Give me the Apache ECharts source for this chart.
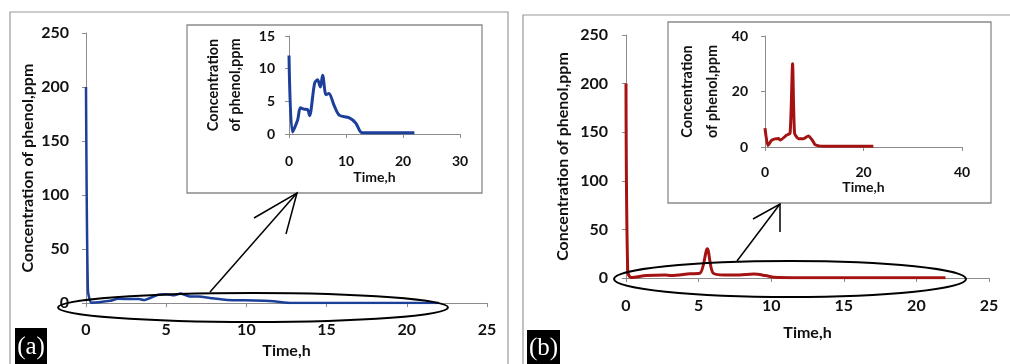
<!DOCTYPE html>
<html><head><meta charset="utf-8">
<script src="https://cdn.jsdelivr.net/npm/echarts@6/dist/echarts.min.js"></script>
<style>html,body{margin:0;padding:0;background:#fff}#c{width:1010px;height:364px}</style>
</head><body><div id="c"></div><script>
// ---- data (a) ----
const timeMainA = [0, 0.12, 0.35, 1.5, 2, 2.6, 3.3, 3.6, 4.5, 5, 5.5, 5.9, 6.5, 7, 7.9, 8.8, 10.5, 11.7, 12.8, 15, 18, 22];
const concMainA = [200, 12, 0.3, 2.1, 4, 3.8, 3.7, 2.8, 7.8, 8.3, 7.2, 9, 6, 6.2, 4.4, 2.9, 2.5, 1.7, 0.2, 0.2, 0.2, 0.2];
const timeInsetA = [0, 0.6, 1.5, 2, 2.6, 3.3, 3.6, 4.5, 5, 5.5, 5.9, 6.5, 7, 7.9, 8.8, 10.5, 11.7, 12.8, 15, 18, 22];
const concInsetA = [12, 0.3, 2.1, 4, 3.8, 3.7, 2.8, 7.8, 8.3, 7.2, 9, 6, 6.2, 4.4, 2.9, 2.5, 1.7, 0.2, 0.2, 0.2, 0.2];
// ---- data (b) ----
const timeMainB = [0, 0.12, 0.35, 1.4, 2.7, 3.1, 4.4, 5.1, 5.6, 6.0, 6.8, 7.8, 8.8, 9.6, 10.2, 12, 15, 18, 22];
const concMainB = [200, 6.8, 0.5, 2.5, 3.1, 2.5, 4.3, 5, 30, 5, 3, 3, 4, 2.5, 0.8, 0.3, 0.3, 0.3, 0.3];
const timeInsetB = [0, 0.6, 1.4, 2.7, 3.1, 4.4, 5.1, 5.6, 6.0, 6.8, 7.8, 8.8, 9.6, 10.2, 12, 15, 18, 22];
const concInsetB = [6.8, 0.5, 2.5, 3.1, 2.5, 4.3, 5, 30, 5, 3, 3, 4, 2.5, 0.8, 0.3, 0.3, 0.3, 0.3];
// ---- texts ----
const yTitleMain = 'Concentration of phenol,ppm';
const yTitleInset = 'Concentration\nof phenol,ppm';
const xTitle = 'Time,h';
const panelTags = ['(a)', '(b)'];

const FONT = 'Lato';
const AX = '#8c8c8c';
function zip(t, v) { return t.map((x, i) => [x, v[i]]); }

function xAx(g, max, interval, fs, margin, nameGap) {
  return {
    type: 'value', gridIndex: g, min: 0, max: max, interval: interval,
    name: xTitle, nameLocation: 'middle', nameGap: nameGap,
    nameTextStyle: { fontFamily: FONT, fontWeight: 'bold', fontSize: fs, color: '#111' },
    axisLine: { show: true, onZero: false, lineStyle: { color: AX, width: 1 } },
    axisTick: { show: true, length: 4, lineStyle: { color: AX } },
    axisLabel: { fontFamily: FONT, fontWeight: 'bold', fontSize: fs, color: '#111', margin: margin },
    splitLine: { show: false }
  };
}
function yAx(g, max, interval, fs, margin, name, nameFs, nameLh, nameGap) {
  return {
    type: 'value', gridIndex: g, min: 0, max: max, interval: interval,
    name: name, nameLocation: 'middle', nameRotate: 90, nameGap: nameGap,
    nameTextStyle: { fontFamily: FONT, fontWeight: 'bold', fontSize: nameFs, color: '#111', lineHeight: nameLh },
    axisLine: { show: true, lineStyle: { color: AX, width: 1 } },
    axisTick: { show: true, length: 4, lineStyle: { color: AX } },
    axisLabel: { fontFamily: FONT, fontWeight: 'bold', fontSize: fs, color: '#111', margin: margin },
    splitLine: { show: false }
  };
}
function line(g, data, color, width, smooth) {
  return {
    type: 'line', xAxisIndex: g, yAxisIndex: g, data: data, symbol: 'none',
    smooth: smooth, lineStyle: { color: color, width: width }, z: 3
  };
}
const BLUE = '#1c3f9a', RED = '#a51212';
const chart = echarts.init(document.getElementById('c'), null, { renderer: 'canvas' });
chart.setOption({
  animation: false,
  backgroundColor: '#fff',
  grid: [
    { left: 86, top: 33, width: 401, height: 273 },
    { left: 289, top: 36, width: 171, height: 98 },
    { left: 626, top: 35, width: 363, height: 243 },
    { left: 765, top: 36, width: 197, height: 111 }
  ],
  xAxis: [
    xAx(0, 25, 5, 16, 19, 37),
    xAx(1, 30, 10, 14, 20, 36),
    xAx(2, 25, 5, 16, 20, 47),
    xAx(3, 40, 20, 14, 18, 33)
  ],
  yAxis: [
    yAx(0, 250, 50, 16, 17, yTitleMain, 16, 18, 46),
    yAx(1, 15, 5, 14, 14, yTitleInset, 14.5, 22, 43),
    yAx(2, 250, 50, 16, 18, yTitleMain, 16, 18, 54),
    yAx(3, 40, 20, 14, 17, yTitleInset, 14.5, 25, 40)
  ],
  series: [
    line(0, zip(timeMainA, concMainA), BLUE, 2.5, 0.2),
    line(1, zip(timeInsetA, concInsetA), BLUE, 3, 0.3),
    line(2, zip(timeMainB, concMainB), RED, 3, 0.3),
    line(3, zip(timeInsetB, concInsetB), RED, 3, 0.2)
  ],
  graphic: [
    // panel frames
    { type: 'polyline', shape: { points: [[10, 364], [10, 12], [508, 12], [508, 364]] }, style: { stroke: '#9a9a9a', lineWidth: 1.2, fill: null } },
    { type: 'polyline', shape: { points: [[523, 364], [523, 15], [1010, 15]] }, style: { stroke: '#9a9a9a', lineWidth: 1.2, fill: null } },
    // inset boxes
    { type: 'rect', shape: { x: 187, y: 25, width: 295, height: 168 }, style: { stroke: '#8a8a8a', lineWidth: 1.3, fill: null } },
    { type: 'rect', shape: { x: 668, y: 22, width: 323, height: 181 }, style: { stroke: '#8a8a8a', lineWidth: 1.3, fill: null } },
    // ellipses
    { type: 'ellipse', shape: { cx: 253, cy: 307.5, rx: 195, ry: 14.5 }, style: { stroke: '#000', lineWidth: 2, fill: null }, z: 10 },
    { type: 'ellipse', shape: { cx: 790, cy: 279, rx: 176, ry: 18 }, style: { stroke: '#000', lineWidth: 2, fill: null }, z: 10 },
    // arrows
    { type: 'polyline', shape: { points: [[210, 292], [297, 193]] }, style: { stroke: '#000', lineWidth: 1.5, fill: null }, z: 10 },
    { type: 'polyline', shape: { points: [[254, 218], [297, 193], [286, 234]] }, style: { stroke: '#000', lineWidth: 1.5, fill: null }, z: 10 },
    { type: 'polyline', shape: { points: [[737, 261], [780, 204]] }, style: { stroke: '#000', lineWidth: 1.5, fill: null }, z: 10 },
    { type: 'polyline', shape: { points: [[753, 219], [780, 204], [780, 232]] }, style: { stroke: '#000', lineWidth: 1.5, fill: null }, z: 10 },
    // panel tags
    { type: 'rect', shape: { x: 15, y: 328, width: 32, height: 36 }, style: { fill: '#000' }, z: 10 },
    { type: 'text', x: 31, y: 347, style: { text: panelTags[0], fill: '#fff', font: '25px "Liberation Serif"', textAlign: 'center', textVerticalAlign: 'middle' }, z: 11 },
    { type: 'rect', shape: { x: 527, y: 330, width: 33, height: 34 }, style: { fill: '#000' }, z: 10 },
    { type: 'text', x: 543.5, y: 348, style: { text: panelTags[1], fill: '#fff', font: '25px "Liberation Serif"', textAlign: 'center', textVerticalAlign: 'middle' }, z: 11 }
  ]
});
</script></body></html>
